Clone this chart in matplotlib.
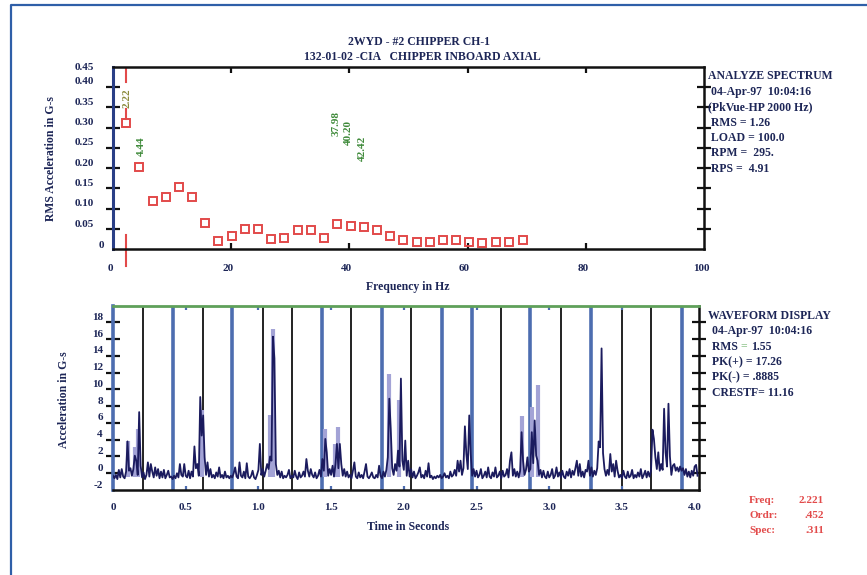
import matplotlib
matplotlib.use('Agg')
import matplotlib.pyplot as plt
import matplotlib.transforms as mtransforms
from matplotlib.lines import Line2D
import numpy as np

# --- spectrum: harmonic peaks (Hz, G-s RMS) ---
spec_freq = [2.22, 4.44, 6.7, 8.9, 11.1, 13.4, 15.6, 17.8, 20.1, 22.3, 24.5,
             26.8, 29.0, 31.3, 33.5, 35.7, 37.98, 40.20, 42.42, 44.7, 46.9,
             49.1, 51.4, 53.6, 55.8, 58.1, 60.3, 62.5, 64.8, 67.0, 69.3]
spec_amp = [0.311, 0.203, 0.120, 0.130, 0.154, 0.128, 0.064, 0.021, 0.033,
            0.050, 0.050, 0.026, 0.029, 0.047, 0.047, 0.029, 0.063, 0.058,
            0.055, 0.047, 0.034, 0.022, 0.017, 0.017, 0.022, 0.022, 0.019,
            0.015, 0.018, 0.018, 0.022]
peak_labels = ['4.44', '37.98', '40.20', '42.42']
peak_label_x = [4.75, 37.8, 39.9, 42.2]
peak_label_y = [0.253, 0.31, 0.289, 0.248]
cursor_freq = 2.221
cursor_label = '2.22'

spec_yticks = [0, 0.05, 0.10, 0.15, 0.20, 0.25, 0.30, 0.35, 0.40, 0.45]
spec_ylabels = ['0', '0.05', '0.10', '0.15', '0.20', '0.25', '0.30', '0.35', '0.40', '0.45']
spec_xticks = [0, 20, 40, 60, 80, 100]

spec_info = ['ANALYZE SPECTRUM', ' 04-Apr-97  10:04:16', '(PkVue-HP 2000 Hz)',
             ' RMS = 1.26', ' LOAD = 100.0', ' RPM =  295.', ' RPS =  4.91']

# --- waveform, sampled every 10 ms (G-s) ---
wave_dt = 0.01
wave_g = [
    -0.3, -0.6, -0.2, -0.7, 0.4, -0.5, 0.5, -0.4, -0.6, 0.2,
    3.8, 0.3, 0.6, -0.3, 0.5, 2.1, 1.5, -0.2, 7.3, 0.9,
    -0.5, 0.1, -0.7, -0.2, 1.3, -0.4, 1.1, 0.2, -0.5, 0.7,
    -0.3, 0.5, -0.6, 0.2, -0.5, 0.4, -0.6, -0.2, 0.3, -0.5,
    -0.4, -0.7, -0.3, -0.6, 0.0, -0.5, 1.1, -0.2, -0.4, 1.1,
    -0.3, -0.5, 0.3, -0.6, 0.2, -0.4, 3.2, 0.6, 1.1, -0.3,
    9.1, 4.5, 6.9, 1.9, -0.2, 1.3, -0.4, 0.5, -0.5, -0.2,
    -0.6, 0.1, -0.4, 0.7, -0.5, -0.2, -0.6, 0.2, -0.5, -0.3,
    -0.6, -0.3, -0.5, 0.0, 0.7, -0.4, -0.6, 1.3, -0.3, -0.5,
    0.2, -0.6, 1.2, -0.4, -0.6, -0.3, 0.3, -0.5, -0.7, -0.2,
    0.4, 3.5, -0.2, 0.5, -0.4, 0.3, 1.1, 0.5, 2.0, 1.5,
    16.3, 13.7, 1.1, -0.2, 0.3, -0.5, 0.2, -0.6, -0.3, -0.5,
    -0.2, 0.4, -0.6, -0.3, -0.5, 0.3, -0.4, -0.7, 0.1, -0.5,
    -0.3, 0.2, -0.4, 1.7, 0.3, -0.4, 0.5, -0.2, -0.5, 0.1,
    -0.6, -0.3, 0.4, -0.4, 1.7, 0.3, 4.1, 2.5, -0.3, 0.5,
    -0.2, 0.9, -0.4, 1.1, 3.5, 0.6, 3.5, 1.1, -0.3, 0.5,
    -0.4, 0.2, -0.5, -0.2, -0.6, 0.3, 1.3, -0.4, -0.6, 0.1,
    -0.5, -0.2, -0.6, 0.2, 1.1, -0.4, -0.6, -0.3, 0.1, -0.5,
    -0.6, -0.2, -0.5, 0.9, -0.3, -0.6, 0.2, -0.4, 0.4, 1.9,
    8.9, 5.3, 0.6, -0.2, 1.1, 0.3, 2.7, 0.8, 11.3, 1.5,
    0.4, 3.9, -0.3, 1.5, -0.4, 0.5, -0.5, 0.2, -0.6, -0.3,
    0.1, 0.7, -0.5, -0.2, -0.6, 0.3, -0.4, 1.2, -0.5, -0.3,
    -0.7, -0.4, -0.6, -0.3, -0.5, -0.2, -0.6, -0.4, 0.0, -0.5,
    -0.3, -0.6, 0.2, -0.4, -0.2, 0.4, -0.3, 1.5, 0.2, 1.5,
    -0.2, 0.6, 5.6, 2.3, 0.5, 6.9, 2.3, -0.3, 0.5, -0.4,
    0.3, -0.5, -0.2, 0.5, -0.6, -0.3, 0.2, -0.5, 0.7, -0.4,
    -0.6, 0.1, -0.4, 0.7, -0.5, -0.3, 0.2, -0.6, 0.3, -0.4,
    -0.2, 0.5, -0.5, 1.5, 2.5, -0.3, 0.5, -0.4, 0.2, -0.5,
    0.3, 4.9, 1.5, -0.2, 0.4, 1.9, 0.2, 0.5, 4.9, 1.2,
    6.3, 2.1, 1.5, -0.2, 0.4, -0.5, 0.3, -0.4, -0.6, 0.2,
    -0.5, -0.2, 0.5, -0.6, -0.3, 0.7, -0.4, 0.1, -0.5, 0.3,
    -0.4, -0.6, 0.2, -0.3, 0.5, -0.5, 0.3, -0.2, 0.6, 1.5,
    -0.3, 1.1, -0.4, 0.2, -0.5, 0.4, 0.2, 1.5, -0.3, 0.7,
    -0.4, 0.3, -0.2, 0.6, 3.8, 3.1, 14.9, 2.4, 0.5, -0.3,
    0.4, -0.2, 2.3, 0.2, 1.1, -0.4, 1.5, 0.3, -0.5, -0.2,
    -0.6, 0.3, -0.4, -0.6, 0.2, -0.5, -0.3, 0.4, -0.6, -0.2,
    -0.5, 0.1, -0.4, 0.5, -0.6, -0.2, 0.3, -0.5, 0.2, -0.4,
    0.3, 5.2, 4.1, 1.9, 0.5, 2.5, 0.3, 1.1, 0.4, 7.7,
    2.5, 0.8, 8.3, 2.0, -0.2, 0.9, 1.1, 0.3, 0.7, 0.2,
    0.8, 0.3, 0.6, -0.2, 0.5, -0.4, 0.2, -0.5, 0.3, -0.3,
    0.8, 1.0, -0.3,
]
wave_t = np.arange(len(wave_g)) * wave_dt

# peak-hold trace (lighter) at the impacts
hold_t = [0.10, 0.15, 0.17, 0.61, 1.08, 1.10, 1.46, 1.53, 1.55, 1.90, 1.97, 2.81, 2.88, 2.92]
hold_g = [3.8, 3.1, 5.3, 7.5, 6.9, 17.26, 5.3, 3.5, 5.5, 11.9, 8.7, 6.8, 7.9, 10.5]

# once-per-rev markers
rev_t = [0.206, 0.412, 0.62, 0.82, 1.03, 1.23, 1.44, 1.64, 1.85, 2.05,
         2.26, 2.47, 2.67, 2.87, 3.08, 3.29, 3.50, 3.70, 3.91]
rev_kind = ['k', 'b', 'k', 'b', 'k', 'k', 'b', 'k', 'b', 'k',
            'b', 'b', 'k', 'b', 'k', 'b', 'k', 'k', 'b']

wave_yticks = [-2, 0, 2, 4, 6, 8, 10, 12, 14, 16, 18]
wave_xticks = [0, 0.5, 1.0, 1.5, 2.0, 2.5, 3.0, 3.5, 4.0]
wave_xlabels = ['0', '0.5', '1.0', '1.5', '2.0', '2.5', '3.0', '3.5', '4.0']

wave_info = ['WAVEFORM DISPLAY', ' 04-Apr-97  10:04:16', ' RMS ', ' PK(+) = 17.26',
             ' PK(-) = .8885', ' CRESTF= 11.16']
cursor_keys = ['Freq:', 'Ordr:', 'Spec:']
cursor_vals = ['2.221', '.452', '.311']

NAVY = '#1d2657'
RED = '#e24a4a'
GREEN = '#3f8a3a'
BLUE = '#4d6db0'
FONT = dict(family='Liberation Serif', weight='bold')

W, H = 867, 575
fig = plt.figure(figsize=(W / 100, H / 100), dpi=100)


def fx(px):
    return px / W


def fy(py):
    return 1 - py / H


# page border (left and top edges)
fig.add_artist(Line2D([fx(11), fx(11), 1.0], [0.0, fy(5), fy(5)],
                      transform=fig.transFigure, color='#2f5fa8', lw=1.6))

# ---------------- spectrum ----------------
ax1 = fig.add_axes([fx(113), fy(249.3), fx(704 - 113), (249.3 - 66.7) / H])
ax1.set_xlim(0, 100)
ax1.set_ylim(0, 0.45)
ax1.plot(spec_freq, spec_amp, ls='none', marker='s', ms=6, mfc='none',
         mec=RED, mew=1.4, zorder=3)

# cursor at the running-speed peak
ax1.plot([cursor_freq, cursor_freq], [0.45, 0.412], color=RED, lw=1.5)
ax1.plot([cursor_freq, cursor_freq], [0.345, 0.322], color=RED, lw=1.5)
ax1.plot([cursor_freq, cursor_freq], [0.035, -0.04], color=RED, lw=1.5, clip_on=False)
ax1.text(cursor_freq + 0.2, 0.372, cursor_label, rotation=90, ha='center', va='center',
         color='#8a8a3a', fontsize=8, **FONT)
for s, x, y in zip(peak_labels, peak_label_x, peak_label_y):
    ax1.text(x, y, s, rotation=90, ha='center', va='center', color=GREEN,
             fontsize=8, **FONT)

for side in ['top', 'right', 'bottom']:
    ax1.spines[side].set_color('#111111')
    ax1.spines[side].set_linewidth(1.8)
ax1.spines['left'].set_color('#2a3f86')
ax1.spines['left'].set_linewidth(2.2)

ax1.set_yticks(spec_yticks[1:-1])
ax1.set_xticks(spec_xticks[1:-1])
ax1.tick_params(axis='y', direction='inout', length=10, width=1.6, color='#111111',
                left=True, right=True, labelleft=False)
ax1.tick_params(axis='x', direction='in', length=4, width=1.6, color='#111111',
                top=True, bottom=True, labelbottom=False)

tr = mtransforms.offset_copy(ax1.get_yaxis_transform(), fig=fig, x=-19, y=5, units='dots')
for v, s in zip(spec_yticks, spec_ylabels):
    if v == 0.45:
        t = mtransforms.offset_copy(ax1.get_yaxis_transform(), fig=fig, x=-19, y=-1, units='dots')
    elif v == 0:
        t = mtransforms.offset_copy(ax1.get_yaxis_transform(), fig=fig, x=-9, y=4, units='dots')
    else:
        t = tr
    ax1.text(0, v, s, transform=t, ha='right', va='center', color=NAVY, fontsize=8, **FONT)

tr = mtransforms.offset_copy(ax1.get_xaxis_transform(), fig=fig, x=-3, y=-19, units='dots')
for v in spec_xticks:
    ax1.text(v, 0, str(v), transform=tr, ha='center', va='center', color=NAVY,
             fontsize=8, **FONT)

fig.text(fx(408), fy(287), 'Frequency in Hz', ha='center', va='center', color=NAVY,
         fontsize=8.5, **FONT)
fig.text(fx(51), fy(159), 'RMS Acceleration in G-s', rotation=90, ha='center',
         va='center', color=NAVY, fontsize=8.5, **FONT)
fig.text(fx(419), fy(42), '2WYD - #2 CHIPPER CH-1', ha='center', va='center',
         color=NAVY, fontsize=8.5, **FONT)
fig.text(fx(422), fy(57.5), '132-01-02 -CIA   CHIPPER INBOARD AXIAL', ha='center',
         va='center', color=NAVY, fontsize=8.5, **FONT)

for i, s in enumerate(spec_info):
    fig.text(fx(708), fy(76 + 15.5 * i), s, ha='left', va='center', color=NAVY,
             fontsize=8.5, **FONT)

# ---------------- waveform ----------------
ax2 = fig.add_axes([fx(113), fy(490), fx(699 - 113), (490 - 305.7) / H])
ax2.set_xlim(0, 4.03)
ax2.set_ylim(-2, 20)

for t, k in zip(rev_t, rev_kind):
    if k == 'b':
        ax2.axvline(t, color=BLUE, lw=2.6, zorder=1)
    else:
        ax2.axvline(t, color='#111111', lw=1.3, zorder=1)

ax2.vlines(hold_t, -0.4, hold_g, color='#a3a3d6', lw=3.0, zorder=2)
ax2.plot(wave_t, wave_g, color='#1b1b5e', lw=1.3, zorder=3)

ax2.spines['top'].set_color('#5fa05a')
ax2.spines['top'].set_linewidth(2.0)
ax2.spines['left'].set_color(BLUE)
ax2.spines['left'].set_linewidth(2.6)
ax2.spines['right'].set_color('#111111')
ax2.spines['right'].set_linewidth(1.8)
ax2.spines['bottom'].set_color('#111111')
ax2.spines['bottom'].set_linewidth(1.8)

ax2.set_yticks(wave_yticks[1:])
ax2.set_xticks(wave_xticks[1:-1])
ax2.tick_params(axis='y', direction='inout', length=10, width=1.6, color='#111111',
                left=True, right=True, labelleft=False)
ax2.tick_params(axis='x', direction='in', length=3, width=1.6, color=BLUE,
                top=True, bottom=True, labelbottom=False)

tr = mtransforms.offset_copy(ax2.get_yaxis_transform(), fig=fig, x=-10, y=5, units='dots')
for v in wave_yticks:
    ax2.text(0, v, str(v), transform=tr, ha='right', va='center', color=NAVY,
             fontsize=8, **FONT)

tr = mtransforms.offset_copy(ax2.get_xaxis_transform(), fig=fig, x=0, y=-18, units='dots')
for v, s in zip(wave_xticks, wave_xlabels):
    ax2.text(v, 0, s, transform=tr, ha='center', va='center', color=NAVY,
             fontsize=8, **FONT)

fig.text(fx(408), fy(527), 'Time in Seconds', ha='center', va='center', color=NAVY,
         fontsize=8.5, **FONT)
fig.text(fx(64), fy(400), 'Acceleration in G-s', rotation=90, ha='center',
         va='center', color=NAVY, fontsize=8.5, **FONT)

for i, s in enumerate(wave_info):
    y = fy(316 + 15.4 * i)
    x = fx(708) if i == 0 else fx(709)
    txt = fig.text(x, y, s, ha='left', va='center', color=NAVY, fontsize=8.5, **FONT)
    if s.strip() == 'RMS':
        # the '=' sign is drawn in the highlight colour
        fig.canvas.draw()
        bb = txt.get_window_extent()
        ymid = (bb.y0 + bb.y1) / 2
        eq = fig.text(bb.x1, ymid, '= ', color='#8fc48a', fontsize=8.5, va='center',
                      transform=mtransforms.IdentityTransform(), **FONT)
        fig.canvas.draw()
        bb2 = eq.get_window_extent()
        fig.text(bb2.x1, ymid, '1.55', color=NAVY, fontsize=8.5, va='center',
                 transform=mtransforms.IdentityTransform(), **FONT)

for i, (k, v) in enumerate(zip(cursor_keys, cursor_vals)):
    y = fy(500.5 + 15.2 * i)
    fig.text(fx(749), y, k, ha='left', va='center', color=RED, fontsize=8, **FONT)
    fig.text(fx(824), y, v, ha='right', va='center', color=RED, fontsize=8, **FONT)

fig.savefig('out.png', dpi=100)
plt.close(fig)
